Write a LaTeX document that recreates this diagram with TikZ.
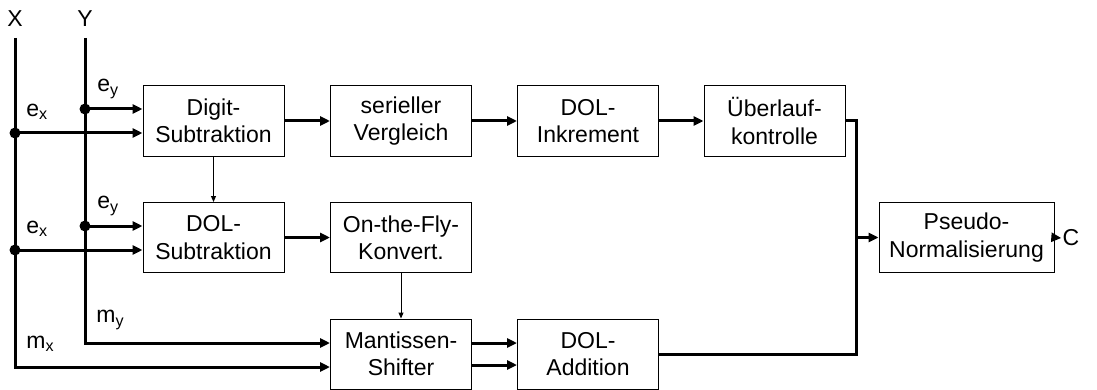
\documentclass[tikz,border=0pt]{standalone}
\usepackage{fontspec}
\setmainfont{Liberation Sans}
\usetikzlibrary{arrows.meta,calc}
\begin{document}
\begin{tikzpicture}[x=0.5pt,y=-0.5pt,
  every node/.style={font=\fontsize{11.5}{13.6}\selectfont},
  blk/.style={draw,line width=0.5pt,minimum width=70.5pt,minimum height=35pt,align=center,inner sep=0pt},
  bus/.style={line width=1.5pt,line join=miter},
  arr/.style={-{Triangle[length=5pt,width=4.5pt]}},
  thinarr/.style={line width=0.5pt,-{Triangle[length=3pt,width=2.5pt]}},
  dot/.style={circle,fill,inner sep=0pt,minimum size=5.5pt},
  lbl/.style={anchor=west,inner sep=0pt}]
\useasboundingbox (0,0) rectangle (1097,390);
% blocks
\node[blk] (ds) at (213.5,121) {Digit-\\Subtraktion};
\node[blk] (sv) at (401,121) {serieller\\Vergleich};
\node[blk] (di) at (588,121) {DOL-\\Inkrement};
\node[blk] (ue) at (774.5,121) {Überlauf-\\kontrolle};
\node[blk] (dsub) at (213.5,237.5) {DOL-\\Subtraktion};
\node[blk] (otf) at (401,237.5) {On-the-Fly-\\Konvert.};
\node[blk] (ms) at (401,354) {Mantissen-\\Shifter};
\node[blk] (da) at (588,354) {DOL-\\Addition};
\node[blk,minimum width=87.5pt] (pn) at (966.5,237.5) {Pseudo-\\Normalisierung};
\node[inner sep=0pt] (c) at (1071,238) {C};
% inputs
\node[inner sep=0pt] (xl) at (15,19) {X};
\node[inner sep=0pt] (yl) at (85,19) {Y};
\coordinate (xt) at (15,38);
\coordinate (yt) at (85,38);
\coordinate (xb) at (15,367);
\coordinate (yb) at (85,343);
\coordinate (d1y) at (85,109);
\coordinate (d1x) at (15,133);
\coordinate (d2y) at (85,226);
\coordinate (d2x) at (15,250);
\draw[bus,arr] (xt) -- (xb) -- (xb -| ms.west);
\draw[bus,arr] (yt) -- (yb) -- (yb -| ms.west);
\draw[bus,arr] (d1y) -- (d1y -| ds.west);
\draw[bus,arr] (d1x) -- (d1x -| ds.west);
\draw[bus,arr] (d2y) -- (d2y -| dsub.west);
\draw[bus,arr] (d2x) -- (d2x -| dsub.west);
\foreach \p in {d1y,d1x,d2y,d2x} \node[dot] at (\p) {};
% labels
\node[lbl] at (97,89) {e\textsubscript{y}};
\node[lbl] at (26,112) {e\textsubscript{x}};
\node[lbl] at (97,206) {e\textsubscript{y}};
\node[lbl] at (26,229) {e\textsubscript{x}};
\node[lbl] at (96,320) {m\textsubscript{y}};
\node[lbl] at (26,344) {m\textsubscript{x}};
% chain
\draw[bus,arr] (ds) -- (sv);
\draw[bus,arr] (sv) -- (di);
\draw[bus,arr] (di) -- (ue);
\draw[bus,arr] (dsub) -- (otf);
\draw[thinarr] (ds) -- (dsub);
\draw[thinarr] (otf) -- (ms);
\draw[bus,arr] ([yshift=5.5pt]ms.east) -- ([yshift=5.5pt]da.west);
\draw[bus,arr] ([yshift=-5.5pt]ms.east) -- ([yshift=-5.5pt]da.west);
\coordinate (j) at (856,237.5);
\draw[bus] (ue.east) -- (ue.east -| j) -- (j |- da.east) -- (da.east);
\draw[bus,arr] (j) -- (pn.west);
\draw[bus,arr] (pn.east) -- ([xshift=-0.5pt]c.west);
\end{tikzpicture}
\end{document}
